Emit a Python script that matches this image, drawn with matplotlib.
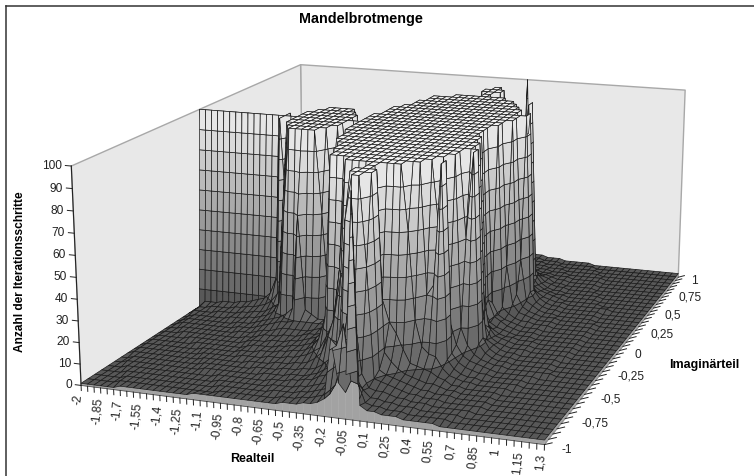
import numpy as np
import matplotlib
matplotlib.use("Agg")
import matplotlib.pyplot as plt
from matplotlib.lines import Line2D
from mpl_toolkits.mplot3d import proj3d
from mpl_toolkits.mplot3d.art3d import Poly3DCollection

plt.rcParams["font.family"] = ["Liberation Sans", "DejaVu Sans"]

# grid of the sheet: real part -2..1.3, imaginary part -1..1, both in steps of 0.05
real_values = np.linspace(-2, 1.3, 67)
imag_values = np.linspace(-1, 1, 41)

real_labels = ["-2", "-1,85", "-1,7", "-1,55", "-1,4", "-1,25", "-1,1", "-0,95", "-0,8", "-0,65", "-0,5", "-0,35",
               "-0,2", "-0,05", "0,1", "0,25", "0,4", "0,55", "0,7", "0,85", "1", "1,15", "1,3"]
imag_labels = ["-1", "-0,75", "-0,5", "-0,25", "0", "0,25", "0,5", "0,75", "1"]
count_ticks = [0, 10, 20, 30, 40, 50, 60, 70, 80, 90, 100]

# iteration counts, one row per imaginary part (0 up to 1),
# the lower half of the surface is the mirror image
im_000 = [100]*46 + [18,10,8,6,5,4,4,4,3,3,3,3,3,3,3,2,2,2,2,2,2]
im_005 = [1,4,4,4,5,5,5,6,6,7,8,9,12,20,100,45] + [100]*9 + [63] + [100]*20 + [15,9,7,6,5,4,4,4,3,3,3,3,3,3,3,2,2,2,2,2,2]
im_010 = [1,3,3,4,4,4,4,5,5,6,6,7,8,10,14,18] + [100]*9 + [30] + [100]*21 + [11,8,6,5,5,4,4,4,3,3,3,3,3,3,2,2,2,2,2,2]
im_015 = [1,3,3,3,3,4,4,4,4,5,5,6,6,7,9,11,60] + [100]*7 + [60,16] + [100]*21 + [30,11,7,6,5,4,4,4,3,3,3,3,3,3,2,2,2,2,2,2]
im_020 = [1,2,3,3,3,3,3,3,4,4,4,5,5,6,7,9,14,60] + [100]*5 + [60,14,11,70] + [100]*21 + [14,8,6,5,4,4,4,3,3,3,3,3,3,2,2,2,2,2,2]
im_025 = [1,2,3,3,3,3,3,3,3,3,4,4,4,5,6,7,8,9,11,14,60,14,12,10,10,12,25] + [100]*21 + [30,9,7,5,4,4,3,3,3,3,3,3,2,2,2,2,2,2,2]
im_030 = [1,2,3,3,3,3,3,3,3,3,3,4,4,4,5,6,7,8,9,9,10,10,10,10,10,10,14] + [100]*22 + [12,7,5,4,4,3,3,3,3,3,3,2,2,2,2,2,2,2]
im_035 = [1,2,2,3,3,3,3,3,3,3,3,3,4,4,4,5,6,6,7,8,8,8,8,8,9,10,12,70] + [100]*19 + [60,100,11,7,5,4,4,3,3,3,3,3,3,2,2,2,2,2,2,2]
im_040 = [1,2,2,2,3,3,3,3,3,3,3,3,3,3,4,4,5,6,6,6,7,7,7,8,9,9,10,15,60] + [100]*18 + [20,12,8,6,5,4,4,3,3,3,3,3,3,3,2,2,2,2,2,2]
im_045 = [1,2,2,2,2,2,3,3,3,3,3,3,3,3,3,4,5,5,5,6,6,6,7,7,8,9,10,12,20] + [100]*17 + [25,14,9,7,6,5,4,3,3,3,3,3,3,2,2,2,2,2,2,2,2]
im_050 = [1,2,2,2,2,2,2,2,3,3,3,3,3,3,3,3,4,5,5,5,5,6,6,7,7,8,9,11,15,30] + [100]*15 + [70,100,12,8,6,5,4,4,3,3,3,3,3,2,2,2,2,2,2,2,2,2]
im_055 = [1] + [2]*9 + [3,3,3,3,3,3,4,4,4,5,5,5,6,6,7,7,8,10,14,25] + [100]*14 + [40,45,100,11,7,5,4,4,3,3,3,3,3,3,2,2,2,2,2,2,2,2,2]
im_060 = [1] + [2]*10 + [3,3,3,3,3,3,4,4,4,4,5,5,5,6,6,7,8,10,12,18,25,50] + [100]*9 + [70,30,18,15,14,9,6,5,4,4,3,3,3,3,3,2,2,2,2,2,2,2,2,2,2]
im_065 = [1] + [2]*11 + [3,3,3,3,3,3,3,4,4,4,4,5,5,5,6,6,7,9,12,20,30,50,40,45,50,100,100,40,30,25,18,12,11,10,9,7,6,4,4,3,3,3,3,3] + [2]*11
im_070 = [1,1] + [2]*11 + [3,3,3,3,3,3,3,3,4,4,4,4,5,5,5,6,6,7,9,12,18,25,30] + [100]*4 + [18,14,11,9,8,7,6,6,5,4,4,3,3,3,3,3] + [2]*11
im_075 = [1,1] + [2]*12 + [3,3,3,3,3,3,3,3,3,4,4,4,4,5,5,5,6,7,9,11,14,35] + [100]*4 + [12,10,9,8,7,6,5,5,4,4,4,3,3,3,3,3] + [2]*11
im_080 = [1,1,1] + [2]*14 + [3,3,3,3,3,3,3,3,4,4,4,5,5,6,6,8,9,11,20,80,100,100,60,10,9,8,7,6,5,5,4,4,4,3,3,3,3,3,3] + [2]*11
im_085 = [1,1,1,1] + [2]*14 + [3,3,3,3,3,3,3,3,4,4,4,4,5,5,6,7,8,10,15,40,40,14,8,7,7,6,5,5,4,4,4,3,3,3,3,3,3] + [2]*12
im_090 = [1,1,1,1,1] + [2]*14 + [3,3,3,3,3,3,3,3,4,4,4,4,5,5,6,7,8,10,22,20,14,9,6,6,5,5,4,4,4,3,3,3,3,3,3] + [2]*13
im_095 = [1,1,1,1,1] + [2]*15 + [3,3,3,3,3,3,3,3,3,4,4,4,5,5,6,7,8,30,40,15,14,6,5,5,4,4,4,3,3,3,3,3,3] + [2]*14
im_100 = [1]*6 + [2]*11 + [3]*4 + [3,3,3,3,3,3,3,3,3,4,4,4,5,5,6,8,35,16,12,100,7,5,5,4,4,4,3,3,3,3,3] + [2]*15

upper_rows = [im_000, im_005, im_010, im_015, im_020, im_025, im_030, im_035, im_040, im_045, im_050,
              im_055, im_060, im_065, im_070, im_075, im_080, im_085, im_090, im_095, im_100]

band_edges = [0, 10, 20, 30, 40, 50, 60, 70, 80, 90, 100]
band_colors = ["#585858", "#6a6a6a", "#7a7a7a", "#8a8a8a", "#9a9a9a", "#aaaaaa", "#bababa", "#cacaca", "#dadada", "#e6e6e6"]
TOP_COLOR = "#f4f4f4"
WALL_COLOR = "#e8e8e8"
WALL_EDGE = "#a8a8a8"
SKIRT_COLOR = "#a2a2a2"
TEXT_COLOR = "#222222"


def clip_band(poly, lo, hi):
    # cut a polygon to the part between two heights
    for limit, sign in ((lo, 1), (hi, -1)):
        kept = []
        for a, b in zip(poly, poly[1:] + poly[:1]):
            da, db = sign * (a[2] - limit), sign * (b[2] - limit)
            if da >= 0:
                kept.append(a)
            if da * db < 0:
                t = da / (da - db)
                kept.append(tuple(a[k] + t * (b[k] - a[k]) for k in range(3)))
        poly = kept
        if len(poly) < 3:
            return []
    return poly


Z = np.array(upper_rows[:0:-1] + upper_rows, dtype=float)

polys, faces = [], []
for j in range(len(imag_values) - 1):
    for i in range(len(real_values) - 1):
        quad = [(real_values[i + a], imag_values[j + b], Z[j + b, i + a]) for a, b in ((0, 0), (1, 0), (1, 1), (0, 1))]
        heights = [q[2] for q in quad]
        if min(heights) == 100:
            polys.append(quad)
            faces.append(TOP_COLOR)
            continue
        if min(heights) == max(heights):
            # flat cell, may sit exactly on a band edge
            polys.append(quad)
            faces.append(band_colors[np.searchsorted(band_edges, heights[0], side="right") - 1])
            continue
        for band in range(len(band_colors)):
            if max(heights) <= band_edges[band] or min(heights) >= band_edges[band + 1]:
                continue
            piece = clip_band(quad, band_edges[band], band_edges[band + 1])
            if piece:
                polys.append(piece)
                faces.append(band_colors[band])

# skirts along the two open sides of the surface
skirts = []
for i in range(len(real_values) - 1):
    skirts.append([(real_values[i], -1, 0), (real_values[i + 1], -1, 0), (real_values[i + 1], -1, Z[0, i + 1]), (real_values[i], -1, Z[0, i])])
for j in range(len(imag_values) - 1):
    skirts.append([(1.3, imag_values[j], 0), (1.3, imag_values[j + 1], 0), (1.3, imag_values[j + 1], Z[j + 1, -1]), (1.3, imag_values[j], Z[j, -1])])

fig = plt.figure(figsize=(7.54, 4.77), dpi=100)
ax = fig.add_axes([0.0284, 0.0082, 1, 1], projection="3d", computed_zorder=False)
ax.set_xlim(-2, 1.3)
ax.set_ylim(-1, 1)
ax.set_zlim(0, 100)
ax.view_init(elev=15.035, azim=-70.26)
ax.set_proj_type("persp", focal_length=0.7748)
ax.set_box_aspect((1, 1.2021, 0.4688), zoom=1.4819)
ax.set_axis_off()
ax.patch.set_alpha(0)
ax.apply_aspect()
view = ax.get_proj()


def put_label(x, y, z, label, **kwargs):
    # mplot3d overrides text rotation, so place the text in the projected position
    px, py, _ = proj3d.proj_transform(x, y, z, view)
    ax.text2D(px, py, label, transform=ax.transData, clip_on=False, fontsize=8.6, color=TEXT_COLOR, zorder=6, **kwargs)


walls = [[(-2, -1, 0), (-2, 1, 0), (-2, 1, 100), (-2, -1, 100)],
         [(-2, 1, 0), (1.3, 1, 0), (1.3, 1, 100), (-2, 1, 100)]]
for verts, face, edge, width, order in ((walls, WALL_COLOR, WALL_EDGE, 1.0, 1),
                                        (skirts, SKIRT_COLOR, SKIRT_COLOR, 0.3, 2),
                                        (polys, faces, "#1a1a1a", 0.5, 3)):
    coll = Poly3DCollection(verts, facecolors=face, edgecolors=edge, linewidths=width, zorder=order)
    ax.add_collection3d(coll)
    coll.set_clip_on(False)

# axes lines, ticks and labels
ax.plot([-2, -2], [-1, -1], [0, 100], color=TEXT_COLOR, lw=0.8, zorder=4, clip_on=False)
ax.plot([-2, 1.3], [-1, -1], [0, 0], color="#555555", lw=0.6, zorder=4, clip_on=False)
ax.plot([1.3, 1.3], [-1, 1], [0, 0], color="#888888", lw=0.6, zorder=4, clip_on=False)

for x in real_values:
    ax.plot([x, x], [-1, -1], [0, -2.4], color=TEXT_COLOR, lw=0.7, zorder=4, clip_on=False)
for x, label in zip(real_values[::3], real_labels):
    put_label(x - 0.025, -1, -3.8, label, rotation=84, ha="center", va="top")

for y in imag_values:
    ax.plot([1.3, 1.35], [y, y], [0, 1.2], color=TEXT_COLOR, lw=0.7, zorder=4, clip_on=False)
for y, label in zip(imag_values[::5], imag_labels):
    put_label(1.41, y, -0.8, label, ha="left", va="center")

for z in count_ticks:
    ax.plot([-2, -2.045], [-1, -1], [z, z], color=TEXT_COLOR, lw=0.7, zorder=4, clip_on=False)
    put_label(-2.07, -1, z, str(z), ha="right", va="center")

fig.text(361 / 754, 1 - 19 / 477, "Mandelbrotmenge", ha="center", va="center", fontsize=10.4, fontweight="bold")
fig.text(252 / 754, 1 - 459 / 477, "Realteil", ha="center", va="center", fontsize=9, fontweight="bold")
fig.text(704 / 754, 1 - 365 / 477, "Imaginärteil", ha="center", va="center", fontsize=9, fontweight="bold")
fig.text(20 / 754, 1 - 272 / 477, "Anzahl der Iterationsschritte", rotation=90, ha="center", va="center", fontsize=8.6, fontweight="bold")

# chart frame, only top and left are inside the crop
fig.add_artist(Line2D([5.5 / 754, 5.5 / 754], [0, 1 - 7 / 477], color="#333333", lw=1.1))
fig.add_artist(Line2D([5.5 / 754, 1], [1 - 7 / 477, 1 - 7 / 477], color="#333333", lw=1.1))

fig.savefig("out.png", dpi=100)
